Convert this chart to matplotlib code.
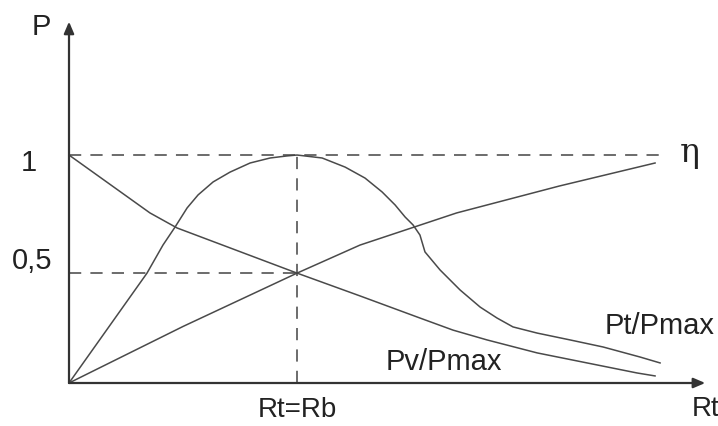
import numpy as np
import matplotlib.pyplot as plt

plt.rcParams['font.family'] = ['Liberation Sans', 'DejaVu Sans']

# curves; x in units of Rt/Rb, y in units of Pmax
pv_x = [0.0, 0.355, 0.474, 1.0, 1.276, 1.539, 1.684, 1.833, 2.053, 2.272, 2.491, 2.57]
pv_y = [1.0, 0.746, 0.680, 0.482, 0.382, 0.285, 0.232, 0.189, 0.132, 0.088, 0.044, 0.031]

eta_x = [0.0, 0.5, 1.0, 1.276, 1.70, 2.15, 2.57]
eta_y = [0.0, 0.248, 0.482, 0.605, 0.746, 0.864, 0.965]

pt_x = [0.0, 0.342, 0.412, 0.465, 0.518, 0.566, 0.632, 0.706, 0.794, 0.882,
        0.956, 1.0, 1.110, 1.211, 1.298, 1.373, 1.430, 1.474, 1.509, 1.539,
        1.561, 1.627, 1.715, 1.803, 1.877, 1.947, 2.053, 2.197, 2.342, 2.504,
        2.592]
pt_y = [0.0, 0.482, 0.605, 0.684, 0.768, 0.825, 0.882, 0.925, 0.965, 0.987,
        0.996, 1.0, 0.987, 0.947, 0.899, 0.838, 0.781, 0.728, 0.693, 0.649,
        0.575, 0.496, 0.408, 0.333, 0.285, 0.246, 0.219, 0.189, 0.158, 0.114,
        0.088]

half = 0.482   # level of the "0,5" line (crossing point)
match_x = 1.0  # Rt = Rb

fig = plt.figure(figsize=(7.18, 4.26), dpi=100)
ax = fig.add_axes([0, 0, 1, 1])
ax.set_xlim(-0.3026, 2.846)
ax.set_ylim(-0.1886, 1.680)
ax.axis('off')

line_c = '#4a4a4a'
ax.plot(pv_x, pv_y, color=line_c, lw=1.1)
ax.plot(eta_x, eta_y, color=line_c, lw=1.1)
ax.plot(pt_x, pt_y, color=line_c, lw=1.1)

# dashed guide lines
dash = dict(color='#444444', lw=1.1, dashes=(8, 6))
ax.plot([0, 2.605], [1, 1], **dash)
ax.plot([0, match_x], [half, half], **dash)
ax.plot([match_x, match_x], [0, 1], **dash)

# axes with arrows
arr = dict(arrowstyle='-|>,head_length=0.7,head_width=0.3', color='#333333', lw=1.6,
           shrinkA=0, shrinkB=0)
ax.annotate('', xy=(2.79, 0), xytext=(0, 0), arrowprops=arr)
ax.annotate('', xy=(0, 1.585), xytext=(0, 0), arrowprops=arr)

fs = 21
tc = '#222222'
ax.text(-0.123, 1.56, 'P', fontsize=fs, color=tc, ha='center', va='center')
ax.text(-0.175, 0.965, '1', fontsize=fs, color=tc, ha='center', va='center')
ax.text(-0.162, 0.535, '0,5', fontsize=fs, color=tc, ha='center', va='center')
ax.text(match_x, -0.118, 'Rt=Rb', fontsize=fs - 1, color=tc, ha='center', va='center')
ax.text(2.79, -0.115, 'Rt', fontsize=fs - 1, color=tc, ha='center', va='center')
ax.text(2.72, 1.01, 'η', fontsize=fs + 3, color=tc, ha='center', va='center',
        family='DejaVu Serif')
ax.text(2.59, 0.25, 'Pt/Pmax', fontsize=fs, color=tc, ha='center', va='center')
ax.text(1.645, 0.092, 'Pv/Pmax', fontsize=fs, color=tc, ha='center', va='center')

fig.savefig('out.png', dpi=100)
